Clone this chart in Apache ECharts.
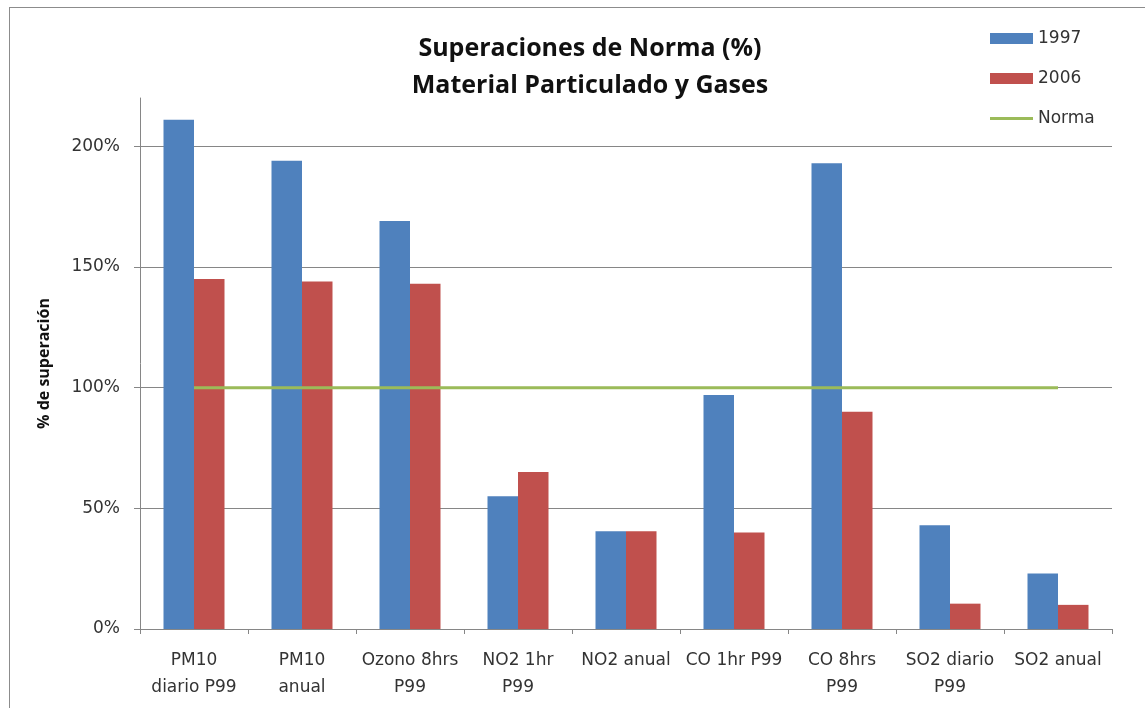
<!DOCTYPE html>
<html>
<head>
<meta charset="utf-8">
<script src="https://cdn.jsdelivr.net/npm/echarts@6/dist/echarts.min.js"></script>
<style>
  html, body { margin: 0; padding: 0; background: #fff; }
  #chart { width: 1145px; height: 708px; }
  #frame { position: absolute; left: 9px; top: 7px; width: 1200px; height: 800px;
           border-left: 1px solid #8c8c8c; border-top: 1px solid #8c8c8c; pointer-events: none; }
</style>
</head>
<body>
<div id="chart"></div>
<div id="frame"></div>
<script>
const categories = ['PM10\ndiario P99', 'PM10\nanual', 'Ozono 8hrs\nP99', 'NO2 1hr\nP99', 'NO2 anual',
  'CO 1hr P99', 'CO 8hrs\nP99', 'SO2 diario\nP99', 'SO2 anual'];
const values1997 = [211, 194, 169, 55, 40.5, 97, 193, 43, 23];
const values2006 = [145, 144, 143, 65, 40.5, 40, 90, 10.5, 10];
const norma = [100, 100, 100, 100, 100, 100, 100, 100, 100];

const chart = echarts.init(document.getElementById('chart'))
const axisGray = '#868686'
const labelFont = 'DejaVu Sans'

chart.setOption({
  animation: false,
  title: {
    text: 'Superaciones de Norma (%)\nMaterial Particulado y Gases',
    left: 585,
    textAlign: 'center',
    top: 25,
    textStyle: {
      fontFamily: 'Open Sans',
      fontWeight: 'bold',
      fontSize: 25,
      lineHeight: 37,
      color: '#111'
    }
  },
  legend: {
    orient: 'vertical',
    left: 985,
    top: 25,
    itemWidth: 43,
    itemHeight: 11,
    itemGap: 23,
    textStyle: {fontFamily: labelFont, fontSize: 17, color: '#333'},
    data: [
      {name: '1997', icon: 'rect'},
      {name: '2006', icon: 'rect'},
      {name: 'Norma', icon: 'path://M0,0H43V3H0Z'}
    ]
  },
  grid: {
    left: 140,
    right: 33,
    top: 98,
    bottom: 79
  },
  xAxis: {
    type: 'category',
    data: categories,
    axisLine: {lineStyle: {color: axisGray, width: 1}},
    axisTick: {show: true, length: 5, lineStyle: {color: axisGray}},
    axisLabel: {
      interval: 0,
      margin: 18,
      fontFamily: labelFont,
      fontSize: 17,
      lineHeight: 27,
      color: '#333'
    }
  },
  yAxis: {
    type: 'value',
    min: 0,
    max: 220,
    interval: 50,
    name: '% de superación',
    nameLocation: 'middle',
    nameGap: 88,
    nameRotate: 90,
    nameTextStyle: {fontFamily: 'Open Sans', fontWeight: 'bold', fontSize: 16, color: '#111'},
    axisLine: {show: true, lineStyle: {color: axisGray, width: 1}},
    axisTick: {show: true, length: 6, lineStyle: {color: axisGray}},
    axisLabel: {
      formatter: '{value}%',
      showMaxLabel: false,
      margin: 20,
      fontFamily: labelFont,
      fontSize: 17,
      color: '#333'
    },
    splitLine: {show: true, showMaxLine: false, lineStyle: {color: axisGray, width: 1}}
  },
  series: [
    {
      name: '1997',
      type: 'bar',
      data: values1997,
      barWidth: 30.5,
      barGap: '0%',
      itemStyle: {color: '#4f81bd'}
    },
    {
      name: '2006',
      type: 'bar',
      data: values2006,
      barWidth: 30.5,
      barGap: '0%',
      itemStyle: {color: '#c0504d'}
    },
    {
      name: 'Norma',
      type: 'line',
      data: norma,
      symbol: 'none',
      itemStyle: {color: '#9bbb59'},
      lineStyle: {color: '#9bbb59', width: 3}
    }
  ]
})
</script>
</body>
</html>
